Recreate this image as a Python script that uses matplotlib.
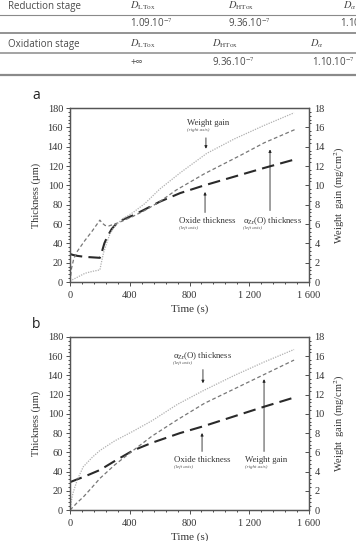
import matplotlib
matplotlib.use("Agg")
import matplotlib.pyplot as plt
from matplotlib.lines import Line2D
from matplotlib.ticker import MultipleLocator, FuncFormatter

plt.rcParams['mathtext.fontset'] = 'stix'

# ---- table content ----
row_labels = ["Reduction stage", "Oxidation stage"]
head_red = [r"$D_{\mathrm{LTox}}$", r"$D_{\mathrm{HTox}}$", r"$D_{\alpha}$"]
vals_red = [r"1.09.10$^{-7}$", r"9.36.10$^{-7}$", r"1.10.10$^{-7}$"]
head_ox = [r"$D_{\mathrm{LTox}}$", r"$D_{\mathrm{HTox}}$", r"$D_{\alpha}$"]
vals_ox = ["+\u221e", r"9.36.10$^{-7}$", r"1.10.10$^{-7}$"]

# ---- panel a (reduction) ----
t_a_oxide = [0, 20, 50, 100, 150, 200, 215, 230, 250, 280, 315, 360, 423, 500, 600, 738, 900, 1100, 1300, 1510]
oxide_a = [29, 28, 27, 26, 25.5, 25, 32, 40, 47, 55, 61, 65, 69, 75, 83, 92, 100, 109, 118, 127]
t_a_alpha = [0, 10, 25, 50, 100, 150, 200, 215, 235, 260, 300, 350, 423, 500, 600, 710, 900, 1141, 1300, 1510]
alpha_a = [0, 14, 24, 32, 43, 53, 64, 61, 58.5, 58, 60, 63, 68, 74, 83, 95, 112, 131, 144, 158]
t_a_wg = [0, 50, 100, 150, 200, 210, 224, 245, 268, 300, 350, 423, 500, 600, 738, 915, 1100, 1300, 1500]
wg_a = [0.1, 0.5, 0.9, 1.1, 1.25, 2.0, 3.0, 4.0, 5.0, 5.8, 6.5, 7.2, 8.1, 9.6, 11.3, 13.3, 14.8, 16.2, 17.5]

# ---- panel b (oxidation) ----
t_b_oxide = [0, 100, 200, 300, 423, 550, 736, 890, 1100, 1300, 1500]
oxide_b = [29, 35, 41.6, 51, 62, 70, 80, 87, 97.5, 107.5, 117]
t_b_alpha = [0, 10, 20, 50, 89, 150, 201, 300, 423, 550, 720, 890, 1100, 1300, 1500]
alpha_b = [0, 10, 17.7, 32, 45, 55, 62, 72, 82, 93, 110, 124, 140, 154, 167]
t_b_wg = [0, 20, 50, 89, 150, 201, 300, 423, 550, 720, 900, 1100, 1300, 1500]
wg_b = [0, 0.3, 0.8, 1.35, 2.4, 3.3, 4.7, 6.2, 7.7, 9.4, 11.1, 12.6, 14.1, 15.6]

serif = "Liberation Serif"
sans = ["Open Sans", "DejaVu Sans"]
tcol = "#4a4a4a"

fig = plt.figure(figsize=(3.56, 5.41), dpi=100)

# table drawn on a pixel-like axes
tab = fig.add_axes([0, 1 - 80 / 541, 1, 80 / 541])
tab.set_xlim(0, 356)
tab.set_ylim(80, 0)
tab.axis('off')
for y, lw in [(15, 0.8), (33, 1.3), (53, 1.1), (75, 1.6)]:
    tab.add_line(Line2D([0, 356], [y, y], color="#8a8a8a", lw=lw))
tab.text(8, 6, row_labels[0], fontsize=7, family=sans, color=tcol, va='center')
tab.text(8, 44, row_labels[1], fontsize=7, family=sans, color=tcol, va='center')
for x, s in zip([130, 228, 343], head_red):
    tab.text(x, 6, s, fontsize=7.5, color=tcol, va='center')
for x, s in zip([130, 228, 340], vals_red):
    tab.text(x, 24, s, fontsize=7, family=sans, color=tcol, va='center')
for x, s in zip([130, 212, 310], head_ox):
    tab.text(x, 44, s, fontsize=7.5, color=tcol, va='center')
for x, s in zip([130, 212, 312], vals_ox):
    tab.text(x, 63, s, fontsize=7, family=sans, color=tcol, va='center')

space_fmt = FuncFormatter(lambda v, p: f"{int(v):,}".replace(",", " "))


def setup(ax, ax2, letter):
    ax.set_xlim(0, 1600)
    ax.set_ylim(0, 180)
    ax2.set_ylim(0, 18)
    ax.xaxis.set_major_locator(MultipleLocator(400))
    ax.xaxis.set_minor_locator(MultipleLocator(80))
    ax.xaxis.set_major_formatter(space_fmt)
    ax.yaxis.set_major_locator(MultipleLocator(20))
    ax.yaxis.set_minor_locator(MultipleLocator(4))
    ax2.yaxis.set_major_locator(MultipleLocator(2))
    ax2.yaxis.set_minor_locator(MultipleLocator(0.4))
    for a in (ax, ax2):
        for sp in a.spines.values():
            sp.set_color("#555555")
            sp.set_linewidth(0.9)
        a.tick_params(labelsize=7.5, colors="#333333", length=3, width=0.6)
        a.tick_params(which='minor', length=1.5, width=0.5)
        for lab in a.get_xticklabels() + a.get_yticklabels():
            lab.set_family(serif)
    ax.tick_params(axis='x', direction='out', top=False)
    ax.tick_params(axis='y', direction='out', pad=2)
    ax2.tick_params(axis='y', direction='in', pad=4)
    ax.set_ylabel("Thickness (\u00b5m)", family=serif, fontsize=7.5, color="#333333")
    ax.yaxis.set_label_coords(-0.12, 0.5)
    ax2.set_ylabel("Weight  gain (mg/cm$^2$)", family=serif, fontsize=7.5, color="#333333")
    ax2.yaxis.set_label_coords(1.10, 0.5)
    ax.set_xlabel("Time (s)", family=serif, fontsize=8, color="#333333")
    ax.xaxis.set_label_coords(0.5, -0.13)
    ax.text(-0.14, 1.03, letter, transform=ax.transAxes, family=sans, fontsize=10,
            color="#222222", ha='center', va='bottom')


def note(ax, x, y, title, sub, tail, tip):
    ax.text(x, y, title, family=serif, fontsize=6.3, color="#333333", va='center')
    ax.text(x, y - 7, sub, family=serif, fontsize=3.6, style='italic', color="#555555", va='center')
    ax.annotate('', xy=tip, xytext=tail,
                arrowprops=dict(arrowstyle='-|>', lw=0.6, color='#222222', mutation_scale=4))


alpha_lbl = r"$\mathregular{\alpha_{Zr}}$(O) thickness"

# panel a
axa = fig.add_axes([70 / 356, 1 - 282 / 541, 239 / 356, 174 / 541])
axa2 = axa.twinx()
axa.plot(t_a_oxide, oxide_a, color="#2a2a2a", lw=1.5, dashes=(6, 3))
axa.plot(t_a_alpha, alpha_a, color="#777777", lw=0.9, dashes=(3, 2))
axa2.plot(t_a_wg, wg_a, color="#b0b0b0", lw=0.9, dashes=(1, 1))
setup(axa, axa2, "a")
note(axa, 783, 164.5, "Weight gain", "(right axis)", (910, 152), (910, 135))
note(axa, 730, 63, "Oxide thickness", "(left axis)", (904, 69), (904, 96))
note(axa, 1158, 63, alpha_lbl, "(left axis)", (1339, 71), (1339, 140))

# panel b
axb = fig.add_axes([70 / 356, 1 - 510 / 541, 239 / 356, 173 / 541])
axb2 = axb.twinx()
axb.plot(t_b_oxide, oxide_b, color="#2a2a2a", lw=1.5, dashes=(6, 3))
axb.plot(t_b_alpha, alpha_b, color="#b0b0b0", lw=0.9, dashes=(1, 1))
axb2.plot(t_b_wg, wg_b, color="#777777", lw=0.9, dashes=(3, 2))
setup(axb, axb2, "b")
note(axb, 690, 160, alpha_lbl, "(left axis)", (890, 149), (890, 129))
note(axb, 696, 52, "Oxide thickness", "(left axis)", (884, 58), (884, 83))
note(axb, 1172, 52, "Weight gain", "(right axis)", (1299, 58), (1299, 139))

fig.savefig("out.png", dpi=100)
